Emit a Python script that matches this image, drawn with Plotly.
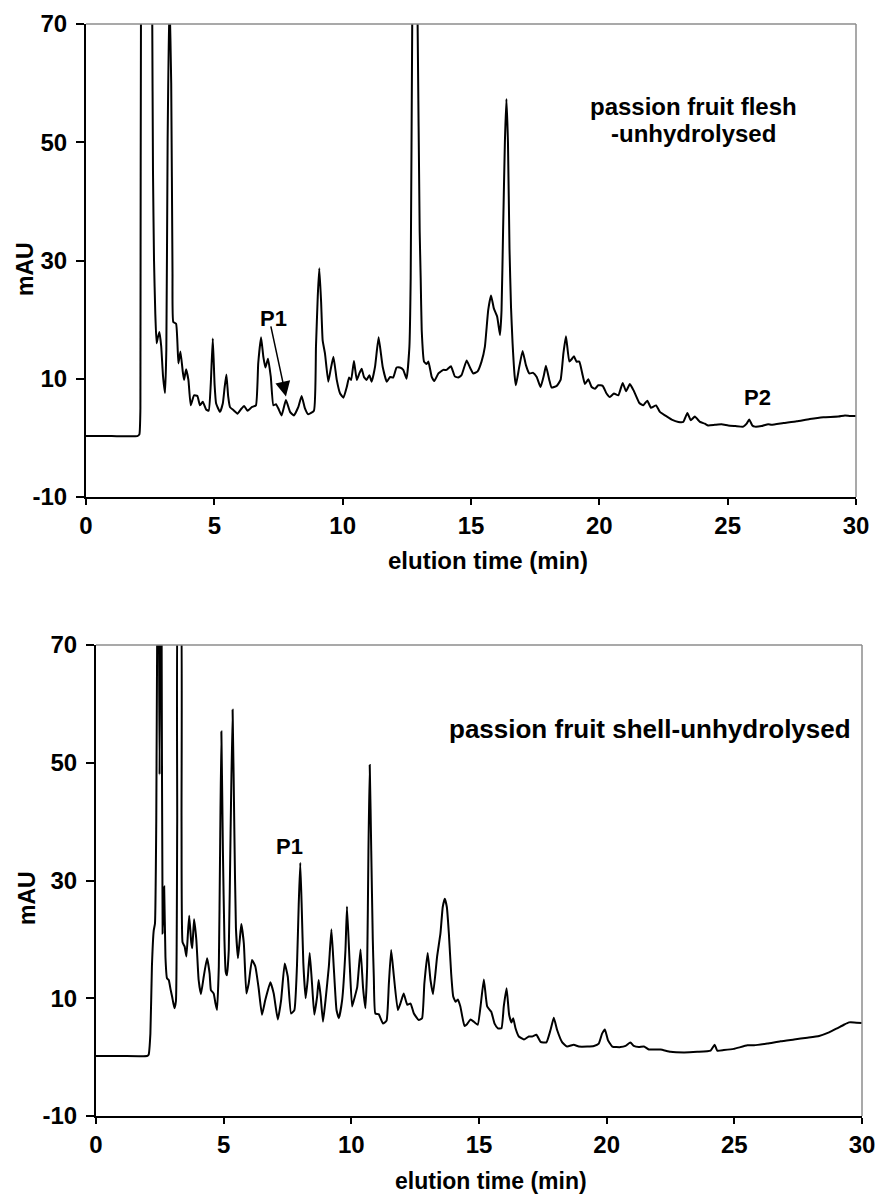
import plotly.graph_objects as go

# ---------------- data ----------------
# Top panel: passion fruit flesh - unhydrolysed
flesh_time = [0, 1.0, 2.0, 2.08, 2.12, 2.15, 2.35, 2.55, 2.58, 2.61, 2.65, 2.70, 2.75, 2.80, 2.86,
              2.93, 3.00, 3.08, 3.13, 3.18, 3.25, 3.32, 3.37, 3.40, 3.51, 3.60, 3.68, 3.77, 3.82,
              3.90, 3.99, 4.08, 4.21, 4.34, 4.44, 4.55, 4.68, 4.78, 4.86, 4.94, 5.01, 5.07, 5.22,
              5.33, 5.40, 5.47, 5.54, 5.61, 5.74, 5.90, 6.03, 6.16, 6.29, 6.46, 6.62, 6.71, 6.82,
              6.91, 6.99, 7.09, 7.20, 7.30, 7.40, 7.49, 7.62, 7.79, 7.95, 8.10, 8.27, 8.40, 8.53,
              8.66, 8.88, 8.96, 9.03, 9.09, 9.16, 9.22, 9.31, 9.44, 9.53, 9.64, 9.77, 9.90, 10.03,
              10.16, 10.25, 10.33, 10.44, 10.55, 10.65, 10.74, 10.83, 10.93, 11.04, 11.13, 11.26,
              11.40, 11.56, 11.72, 11.85, 11.97, 12.10, 12.23, 12.36, 12.49, 12.60, 12.65, 12.71,
              12.80, 12.92, 13.00, 13.04, 13.08, 13.17, 13.27, 13.34, 13.47, 13.57, 13.73, 13.92,
              14.05, 14.22, 14.37, 14.50, 14.63, 14.83, 14.96, 15.09, 15.25, 15.41, 15.54, 15.67,
              15.78, 15.89, 16.02, 16.13, 16.19, 16.25, 16.32, 16.38, 16.44, 16.50, 16.56, 16.62,
              16.70, 16.75, 16.88, 17.01, 17.14, 17.27, 17.42, 17.56, 17.71, 17.84, 17.92, 18.05,
              18.14, 18.34, 18.49, 18.60, 18.70, 18.83, 18.92, 19.01, 19.11, 19.22, 19.35, 19.44,
              19.57, 19.70, 19.83, 19.96, 20.13, 20.28, 20.41, 20.57, 20.74, 20.91, 21.04, 21.19,
              21.35, 21.56, 21.71, 21.87, 22.01, 22.21, 22.36, 22.56, 22.82, 23.08, 23.27, 23.43,
              23.56, 23.72, 23.92, 24.11, 24.24, 24.50, 24.76, 25.02, 25.30, 25.61, 25.74, 25.84,
              25.96, 26.06, 26.32, 26.58, 26.71, 27.17, 27.69, 28.20, 28.73, 29.31, 29.57, 29.77,
              30.0]
flesh_mau = [0.3, 0.3, 0.3, 0.6, 5, 90, 120, 100, 72, 45, 30, 21, 16.0, 17.0, 17.9,
             15.5, 10.5, 7.6, 15, 50, 75, 60, 28, 19.6, 19.3, 12.6, 14.6, 11.2, 9.8,
             11.6, 9.8, 5.5, 7.2, 7.1, 5.5, 6.1, 4.8, 4.6, 9.0, 16.8, 9.0, 5.8, 4.4,
             5.8, 8.5, 10.7, 7.0, 5.2, 4.7, 4.1, 4.8, 5.4, 4.6, 5.2, 5.5, 12.6, 17.0,
             13.7, 11.9, 13.4, 10.3, 5.5, 5.7, 5.0, 3.8, 6.4, 4.4, 3.8, 5.2, 7.1, 5.0,
             4.0, 4.6, 15.4, 24.0, 28.7, 23.0, 16.5, 14.3, 9.5, 11.5, 13.7, 9.8, 7.5, 6.8,
             8.6, 10.2, 9.8, 13.0, 9.8, 10.9, 11.7, 10.3, 9.8, 10.6, 9.5, 12.0,
             17.0, 12.0, 9.5, 10.3, 10.2, 11.9, 11.9, 11.5, 10.0, 15.4, 27, 70,
             110, 70, 35, 27, 18.2, 12.9, 12.5, 12.9, 10.3, 9.6, 10.9, 11.5,
             11.5, 12.1, 10.4, 10.2, 10.6, 13.1, 11.9, 10.9, 11.2, 12.9, 15.4, 21.6,
             24.1, 21.9, 20.5, 17.4, 21.6, 35, 50, 57.3, 50, 32, 22, 16,
             10.5, 8.9, 12.0, 14.7, 12.3, 10.9, 11.0, 10.3, 8.6, 10.6, 12.2, 9.8,
             8.5, 8.8, 9.8, 14.3, 17.2, 12.9, 13.3, 13.8, 12.9, 12.9, 10.6, 9.1,
             9.9, 8.6, 8.3, 8.9, 8.8, 7.5, 6.9, 7.5, 7.2, 9.3, 7.9, 9.1,
             7.9, 5.9, 5.5, 6.3, 5.1, 5.5, 4.4, 3.8, 3.1, 2.7, 2.7, 4.2,
             3.0, 3.6, 2.7, 2.4, 2.1, 2.2, 2.3, 2.1, 2.0, 1.9, 2.4, 3.1,
             2.1, 1.9, 2.0, 2.3, 2.2, 2.5, 2.8, 3.2, 3.5, 3.6, 3.8, 3.7,
             3.7]

# Bottom panel: passion fruit shell - unhydrolysed
shell_time = [0, 1.0, 2.0, 2.06, 2.13, 2.19, 2.26, 2.31, 2.36, 2.40, 2.45, 2.49, 2.53, 2.57, 2.61,
              2.67, 2.72, 2.78, 2.85, 2.92, 2.98, 3.07, 3.13, 3.18, 3.23, 3.30, 3.35, 3.39, 3.47,
              3.54, 3.60, 3.65, 3.73, 3.77, 3.84, 3.93, 4.02, 4.11, 4.22, 4.35, 4.45, 4.50, 4.61,
              4.68, 4.74, 4.81, 4.86, 4.91, 4.97, 5.03, 5.08, 5.13, 5.20, 5.27, 5.35, 5.42, 5.48,
              5.56, 5.63, 5.69, 5.79, 5.89, 5.98, 6.11, 6.24, 6.37, 6.50, 6.63, 6.83, 6.96, 7.12,
              7.25, 7.39, 7.51, 7.64, 7.77, 7.87, 7.94, 8.00, 8.06, 8.12, 8.21, 8.29, 8.37, 8.46,
              8.55, 8.66, 8.72, 8.80, 8.89, 8.99, 9.12, 9.22, 9.31, 9.42, 9.51, 9.64, 9.77, 9.83,
              9.94, 10.03, 10.12, 10.23, 10.36, 10.46, 10.55, 10.62, 10.67, 10.72, 10.78, 10.84,
              10.88, 10.94, 11.07, 11.24, 11.38, 11.47, 11.56, 11.66, 11.82, 11.92, 12.05, 12.19,
              12.32, 12.45, 12.64, 12.77, 12.86, 12.99, 13.10, 13.20, 13.36, 13.49, 13.58, 13.66,
              13.74, 13.82, 13.91, 13.99, 14.08, 14.17, 14.27, 14.43, 14.53, 14.67, 14.80, 14.95,
              15.06, 15.19, 15.32, 15.48, 15.61, 15.74, 15.88, 15.97, 16.08, 16.18, 16.27, 16.34,
              16.43, 16.56, 16.76, 16.95, 17.08, 17.25, 17.41, 17.64, 17.80, 17.93, 18.06, 18.26,
              18.45, 18.71, 18.91, 19.24, 19.50, 19.69, 19.82, 19.93, 20.05, 20.22, 20.54, 20.74,
              20.93, 21.06, 21.26, 21.46, 21.65, 22.11, 22.50, 23.03, 23.55, 24.07, 24.23, 24.33,
              24.59, 24.98, 25.51, 25.77, 26.29, 26.81, 27.34, 27.86, 28.32, 28.71, 29.03, 29.29,
              29.49, 29.69, 30.0]
shell_mau = [0.2, 0.2, 0.2, 0.4, 4.0, 15.4, 21.5, 22.7, 40, 75, 90, 48, 90, 72, 21.0,
             29.0, 17.0, 13.4, 13.1, 11.5, 10.3, 8.3, 9.5, 40, 80, 80, 40, 19.5, 18.8,
             17.1, 21.0, 24.0, 19.5, 18.5, 23.4, 19.9, 13.1, 10.7, 13.7, 16.8, 14.2, 11.4, 10.8,
             9.1, 8.0, 15.4, 35, 55.3, 35, 20, 14.5, 13.9, 18.2, 38, 59.0, 38, 22,
             16.8, 19.9, 22.6, 19.3, 10.8, 12.5, 16.5, 15.4, 11.7, 7.2, 9.7, 12.7, 10.8, 6.4,
             9.7, 15.9, 13.7, 7.4, 8.0, 15.4, 26, 33.0, 25, 16, 10.0, 13.1, 17.7, 12.5,
             7.2, 10.3, 13.1, 10.3, 6.0, 9.7, 15.4, 21.7, 15.4, 8.0, 6.6, 9.7, 18.2, 25.6,
             15.4, 8.6, 10.0, 11.9, 18.3, 11.7, 8.3, 15.4, 35, 49.6, 35, 20,
             13.7, 7.4, 7.3, 5.7, 6.2, 12.5, 18.2, 14.0, 8.0, 9.1, 10.8, 8.9,
             9.1, 7.4, 6.3, 6.6, 12.5, 17.7, 13.1, 10.7, 17.1, 21.0, 25.5, 26.9,
             25.5, 21.0, 14.2, 10.3, 9.4, 9.8, 8.6, 5.3, 5.6, 6.4, 6.0, 5.5,
             8.6, 13.2, 8.6, 7.7, 5.7, 4.9, 4.9, 8.6, 11.7, 7.2, 5.9, 6.6,
             4.9, 3.5, 3.0, 3.5, 3.5, 3.8, 2.6, 2.5, 4.6, 6.7, 4.6, 2.5,
             1.8, 2.1, 1.8, 1.8, 1.9, 2.3, 4.0, 4.7, 2.9, 1.8, 1.7, 1.9,
             2.5, 1.9, 1.7, 1.8, 1.3, 1.3, 0.9, 0.8, 0.9, 1.1, 2.1, 1.1,
             1.2, 1.4, 2.0, 2.0, 2.3, 2.7, 3.0, 3.3, 3.6, 4.2, 4.9, 5.5,
             5.9, 5.9, 5.8]

x_ticks = [0, 5, 10, 15, 20, 25, 30]
x_tick_labels = ["0", "5", "10", "15", "20", "25", "30"]
y_ticks = [-10, 10, 30, 50, 70]
y_tick_labels = ["-10", "10", "30", "50", "70"]

# ---------------- figure ----------------
FONT = "Liberation Sans, Arial, Helvetica, sans-serif"
W, H = 880, 1194

fig = go.Figure()
fig.add_trace(go.Scatter(x=flesh_time, y=flesh_mau, mode="lines", xaxis="x", yaxis="y",
                         line=dict(color="black", width=2, shape="spline", smoothing=0.4),
                         showlegend=False, hoverinfo="skip"))
fig.add_trace(go.Scatter(x=shell_time, y=shell_mau, mode="lines", xaxis="x2", yaxis="y2",
                         line=dict(color="black", width=2, shape="spline", smoothing=0.4),
                         showlegend=False, hoverinfo="skip"))

tickfont = dict(family=FONT, size=24, color="black", weight="bold")

def xax(domain, anchor):
    return dict(domain=domain, anchor=anchor, range=[0, 30], tickmode="array",
                tickvals=x_ticks, ticktext=x_tick_labels,
                ticks="outside", ticklen=6, tickwidth=1.5, tickcolor="black",
                showline=True, linecolor="black", linewidth=2, showgrid=False, zeroline=False,
                tickfont=tickfont, fixedrange=True, automargin=False)

def yax(domain, anchor):
    return dict(domain=domain, anchor=anchor, range=[-10, 70], tickmode="array",
                tickvals=y_ticks, ticktext=y_tick_labels,
                ticks="outside", ticklen=8, tickwidth=1.5, tickcolor="black",
                showline=True, linecolor="black", linewidth=2, showgrid=False, zeroline=False,
                tickfont=tickfont, fixedrange=True, automargin=False, ticklabelstandoff=4)

fig.update_layout(
    template="none",
    width=W, height=H, margin=dict(l=0, r=0, t=0, b=0, pad=0, autoexpand=False),
    paper_bgcolor="white", plot_bgcolor="white",
    xaxis=xax([86 / W, 856 / W], "y"),
    yaxis=yax([(H - 497) / H, (H - 24) / H], "x"),
    xaxis2=xax([96 / W, 862 / W], "y2"),
    yaxis2=yax([(H - 1116) / H, (H - 645) / H], "x2"),
)

# grey top / right frame lines
for xr, yr in (("x domain", "y domain"), ("x2 domain", "y2 domain")):
    fig.add_shape(type="line", xref=xr, yref=yr, x0=0, x1=1, y0=1, y1=1,
                  line=dict(color="#8c8c8c", width=1.5))
    fig.add_shape(type="line", xref=xr, yref=yr, x0=1, x1=1, y0=0, y1=1,
                  line=dict(color="#8c8c8c", width=1.5))

def txt(text, x, y, size, angle=0):
    fig.add_annotation(text=text, x=x / W, y=1 - y / H, xref="paper", yref="paper",
                       xanchor="center", yanchor="middle", showarrow=False, textangle=angle,
                       font=dict(family=FONT, size=size, color="black", weight="bold"))

# axis titles
txt("elution time (min)", 487.5, 560, 24)
txt("elution time (min)", 491, 1181, 23)
txt("mAU", 25, 269, 23, -90)
txt("mAU", 27, 898, 23, -90)

# panel labels
txt("passion fruit flesh", 693, 106, 24)
txt("-unhydrolysed", 693, 133.5, 24)
txt("passion fruit shell-unhydrolysed", 650, 729, 26)

# peak labels
txt("P1", 273.5, 318.5, 22)
txt("P2", 757, 397.5, 22)
txt("P1", 289, 846.7, 22)

# arrow pointing at P1 in the top panel
fig.add_annotation(x=7.79, y=7.0, ax=7.19, ay=19.1, xref="x", yref="y", axref="x", ayref="y",
                   text="", showarrow=True, arrowhead=2, arrowsize=2, arrowwidth=1.5,
                   arrowcolor="black", standoff=0, startstandoff=0)

fig.write_html("out.html")
